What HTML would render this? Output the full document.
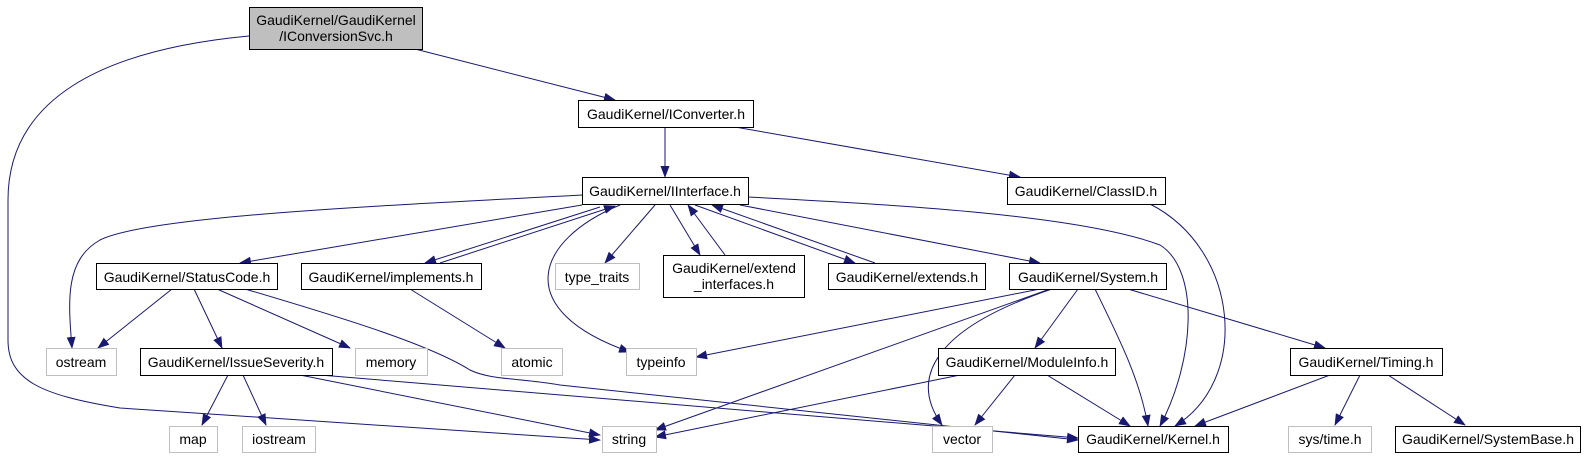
<!DOCTYPE html>
<html><head><meta charset="utf-8"><style>
html,body{margin:0;padding:0;background:#fff;}
svg{display:block;}
text{font-family:"Liberation Sans",sans-serif;font-size:14px;fill:#000;text-anchor:middle;}
</style></head><body>
<svg width="1588" height="459" viewBox="0 0 1588 459" xmlns="http://www.w3.org/2000/svg">
<defs><marker id="a" markerWidth="12" markerHeight="9" refX="11" refY="4.5" orient="auto" markerUnits="userSpaceOnUse"><path d="M0,0 L12,4.5 L0,9 z" fill="#191970"/></marker></defs>
<g fill="none" stroke="#191970" stroke-width="1" marker-end="url(#a)">
<path d="M249,36 C100,50 8,100 8,200 L8,340 C8,380 40,395 120,408 L600,440"/>
<path d="M415,49 L615,100"/>
<path d="M665,127 L665,177"/>
<path d="M735,127 L1020,177"/>
<path d="M582,195 C400,205 150,215 100,240 C65,260 68,300 72,348"/>
<path d="M582,205 L240,263"/>
<path d="M600,207 L425,263"/>
<path d="M440,263 L615,206"/>
<path d="M655,205 L605,263"/>
<path d="M670,205 L700,255"/>
<path d="M725,255 L688,205"/>
<path d="M695,205 L855,263"/>
<path d="M875,263 L712,205"/>
<path d="M740,205 L1040,263"/>
<path d="M748,197 C900,205 1080,215 1160,245 C1200,270 1195,360 1160,426"/>
<path d="M620,205 C535,240 510,310 630,352"/>
<path d="M1150,204 C1240,250 1250,380 1175,426"/>
<path d="M172,289 L98,348"/>
<path d="M194,289 L222,348"/>
<path d="M217,289 L350,348"/>
<path d="M245,289 C350,320 430,345 470,370 C490,380 520,378 560,385 L1078,440"/>
<path d="M410,289 L505,348"/>
<path d="M228,375 L202,425"/>
<path d="M243,375 L266,425"/>
<path d="M300,375 L600,435"/>
<path d="M320,375 L1078,438"/>
<path d="M1040,289 L696,357"/>
<path d="M1050,289 L655,430"/>
<path d="M1052,289 C930,330 910,380 942,425"/>
<path d="M1078,289 L1035,348"/>
<path d="M1095,289 C1120,340 1140,380 1148,426"/>
<path d="M1128,289 L1325,348"/>
<path d="M960,375 L655,437"/>
<path d="M1015,375 L975,425"/>
<path d="M1047,375 L1130,426"/>
<path d="M1330,375 L1195,426"/>
<path d="M1360,375 L1335,425"/>
<path d="M1388,375 L1465,425"/>
</g>
<g stroke="#000" stroke-width="1">
<rect x="249.5" y="7.5" width="173" height="42" fill="#bfbfbf"/>
<rect x="578.5" y="100.5" width="175" height="27" fill="#fff"/>
<rect x="1007.5" y="177.5" width="158" height="27" fill="#fff"/>
<rect x="582.5" y="177.5" width="166" height="27" fill="#fff"/>
<rect x="96.5" y="263.5" width="181" height="26" fill="#fff"/>
<rect x="301.5" y="263.5" width="180" height="26" fill="#fff"/>
<rect x="663.5" y="255.5" width="141" height="42" fill="#fff"/>
<rect x="828.5" y="263.5" width="157" height="26" fill="#fff"/>
<rect x="1009.5" y="263.5" width="157" height="26" fill="#fff"/>
<rect x="140.5" y="348.5" width="192" height="27" fill="#fff"/>
<rect x="938.5" y="348.5" width="177" height="27" fill="#fff"/>
<rect x="1290.5" y="348.5" width="152" height="27" fill="#fff"/>
<rect x="1078.5" y="426.5" width="150" height="26" fill="#fff"/>
<rect x="1395.5" y="426.5" width="185" height="26" fill="#fff"/>
</g>
<g stroke="#bfbfbf" stroke-width="1" fill="#fff">
<rect x="555.5" y="263.5" width="84" height="26"/>
<rect x="46.5" y="348.5" width="70" height="27"/>
<rect x="355.5" y="348.5" width="72" height="27"/>
<rect x="501.5" y="348.5" width="61" height="27"/>
<rect x="626.5" y="348.5" width="70" height="27"/>
<rect x="169.5" y="426.5" width="48" height="26"/>
<rect x="242.5" y="426.5" width="73" height="26"/>
<rect x="602.5" y="426.5" width="54" height="26"/>
<rect x="932.5" y="426.5" width="60" height="26"/>
<rect x="1288.5" y="426.5" width="83" height="26"/>
</g>
<text x="336" y="25">GaudiKernel/GaudiKernel</text>
<text x="336" y="41">/IConversionSvc.h</text>
<text x="666" y="119">GaudiKernel/IConverter.h</text>
<text x="1086" y="196">GaudiKernel/ClassID.h</text>
<text x="665" y="196">GaudiKernel/IInterface.h</text>
<text x="187" y="282">GaudiKernel/StatusCode.h</text>
<text x="391" y="282">GaudiKernel/implements.h</text>
<text x="597" y="282">type_traits</text>
<text x="734" y="273">GaudiKernel/extend</text>
<text x="734" y="289">_interfaces.h</text>
<text x="907" y="282">GaudiKernel/extends.h</text>
<text x="1088" y="282">GaudiKernel/System.h</text>
<text x="81" y="367">ostream</text>
<text x="236" y="367">GaudiKernel/IssueSeverity.h</text>
<text x="391" y="367">memory</text>
<text x="532" y="367">atomic</text>
<text x="661" y="367">typeinfo</text>
<text x="1027" y="367">GaudiKernel/ModuleInfo.h</text>
<text x="1366" y="367">GaudiKernel/Timing.h</text>
<text x="193" y="444">map</text>
<text x="279" y="444">iostream</text>
<text x="629" y="444">string</text>
<text x="962" y="444">vector</text>
<text x="1153" y="444">GaudiKernel/Kernel.h</text>
<text x="1330" y="444">sys/time.h</text>
<text x="1488" y="444">GaudiKernel/SystemBase.h</text>
</svg>
</body></html>
